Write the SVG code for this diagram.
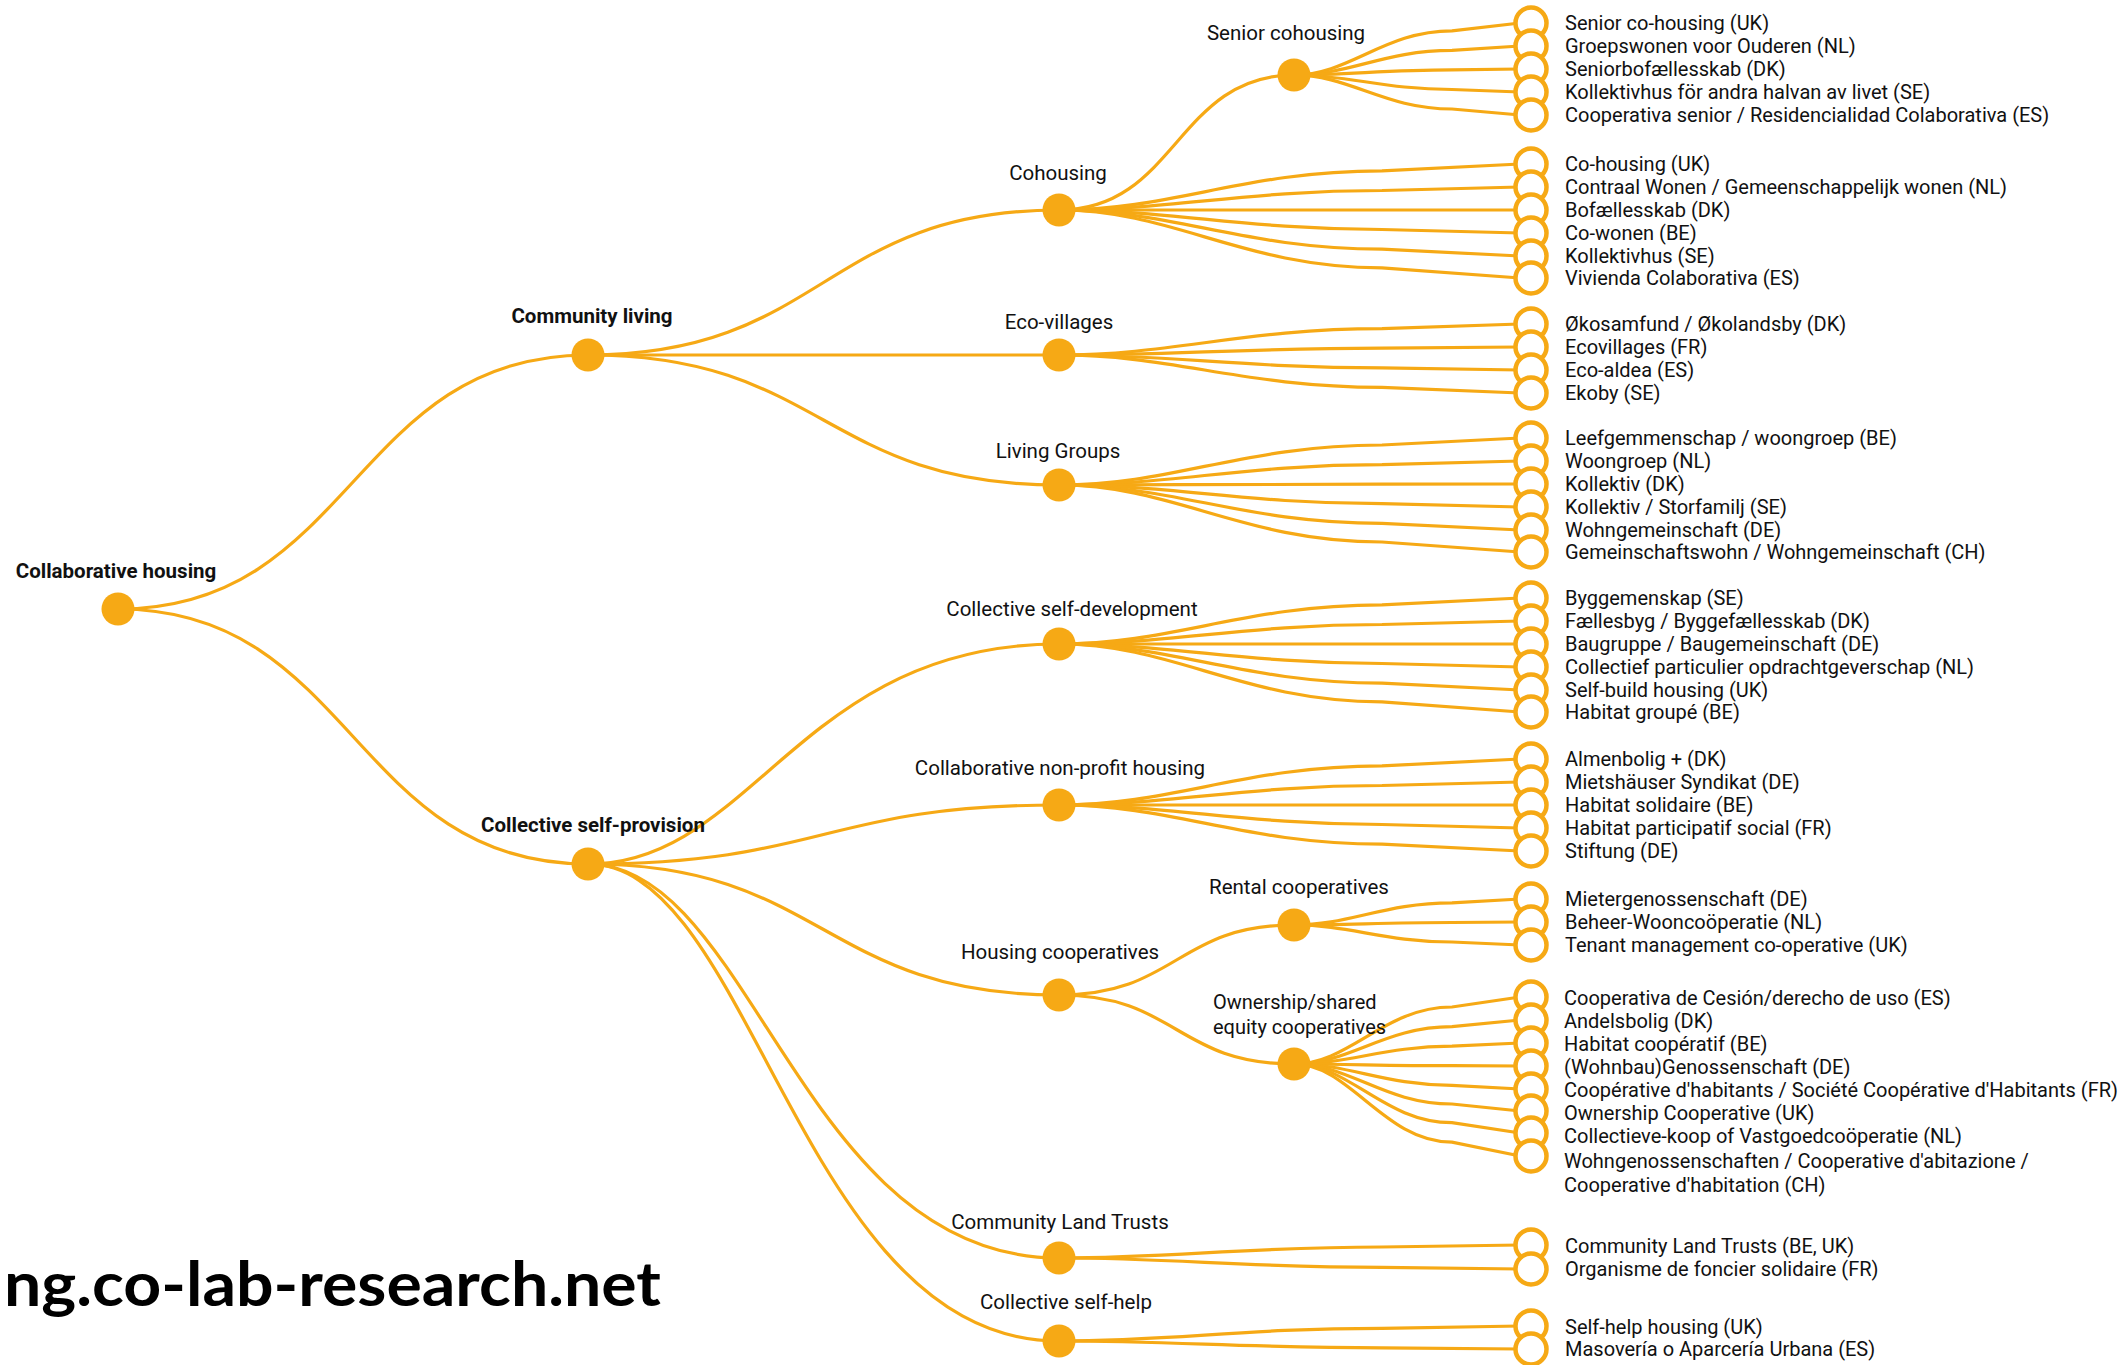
<svg xmlns="http://www.w3.org/2000/svg" width="2126" height="1365" viewBox="0 0 2126 1365">
  <style>
    .link { fill: none; stroke: #F6A915; stroke-width: 3.2; }
    .hub { fill: #F6A915; }
    .leaf circle { fill: #fff; stroke: #F6A915; stroke-width: 4.5; }
    text { font-family: Roboto, "Liberation Sans", sans-serif; fill: #111; }
    .lbl { font-size: 20px; }
    .mid { font-size: 20.5px; text-anchor: middle; }
    .top { font-size: 20.5px; font-weight: 700; text-anchor: middle; }
    .url { font-family: Lato, "Liberation Sans", sans-serif; font-size: 62px; font-weight: 700; fill: #000; }
  </style>
  <rect width="2126" height="1365" fill="#fff"/>

  <!-- connectors -->
  <g id="connectors">
    <!-- trunk and branches -->
    <path class="link" d="M118,609 C353,609 353,355 588,355"/>
    <path class="link" d="M118,609 C353,609 353,864 588,864"/>
    <path class="link" d="M588,355 C823.5,355 823.5,210 1059,210"/>
    <path class="link" d="M588,355 L1059,355"/>
    <path class="link" d="M588,355 C823.5,355 823.5,485 1059,485"/>
    <path class="link" d="M1059,210 C1176.5,210 1176.5,75 1294,75"/>
    <path class="link" d="M588,864 C753,864 800,644 1059,644"/>
    <path class="link" d="M588,864 C823.5,864 823.5,805 1059,805"/>
    <path class="link" d="M588,864 C823.5,864 823.5,995 1059,995"/>
    <path class="link" d="M588,864 C753,864 800,1258 1059,1258"/>
    <path class="link" d="M588,864 C753,864 800,1341 1059,1341"/>
    <path class="link" d="M1059,995 C1176.5,995 1176.5,925 1294,925"/>
    <path class="link" d="M1059,995 C1176.5,995 1176.5,1064 1294,1064"/>

    <!-- senior cohousing fan -->
    <path class="link" d="M1294,75 C1350,75 1384,30.8 1452,30.8 L1520,23"/>
    <path class="link" d="M1294,75 C1350,75 1384,50.4 1452,50.4 L1520,46"/>
    <path class="link" d="M1294,75 C1350,75 1384,69.9 1452,69.9 L1520,69"/>
    <path class="link" d="M1294,75 C1350,75 1384,89.5 1452,89.5 L1520,92"/>
    <path class="link" d="M1294,75 C1350,75 1384,109 1452,109 L1520,115"/>

    <!-- cohousing fan -->
    <path class="link" d="M1059,210 C1174,210 1243,170.9 1382,170.9 L1520,164"/>
    <path class="link" d="M1059,210 C1174,210 1243,190.5 1382,190.5 L1520,187"/>
    <path class="link" d="M1059,210 L1520,210"/>
    <path class="link" d="M1059,210 C1174,210 1243,229.5 1382,229.5 L1520,233"/>
    <path class="link" d="M1059,210 C1174,210 1243,249.1 1382,249.1 L1520,256"/>
    <path class="link" d="M1059,210 C1174,210 1243,267.8 1382,267.8 L1520,278"/>

    <!-- eco-villages fan -->
    <path class="link" d="M1059,355 C1174,355 1243,328.7 1382,328.7 L1520,324"/>
    <path class="link" d="M1059,355 C1174,355 1243,348.2 1382,348.2 L1520,347"/>
    <path class="link" d="M1059,355 C1174,355 1243,367.8 1382,367.8 L1520,370"/>
    <path class="link" d="M1059,355 C1174,355 1243,387.3 1382,387.3 L1520,393"/>

    <!-- living groups fan -->
    <path class="link" d="M1059,485 C1174,485 1243,445 1382,445 L1520,438"/>
    <path class="link" d="M1059,485 C1174,485 1243,464.6 1382,464.6 L1520,461"/>
    <path class="link" d="M1059,485 C1174,485 1243,484.2 1382,484.2 L1520,484"/>
    <path class="link" d="M1059,485 C1174,485 1243,503.7 1382,503.7 L1520,507"/>
    <path class="link" d="M1059,485 C1174,485 1243,523.3 1382,523.3 L1520,530"/>
    <path class="link" d="M1059,485 C1174,485 1243,542 1382,542 L1520,552"/>

    <!-- collective self-development fan -->
    <path class="link" d="M1059,644 C1174,644 1243,604.9 1382,604.9 L1520,598"/>
    <path class="link" d="M1059,644 C1174,644 1243,624.5 1382,624.5 L1520,621"/>
    <path class="link" d="M1059,644 L1520,644"/>
    <path class="link" d="M1059,644 C1174,644 1243,663.5 1382,663.5 L1520,667"/>
    <path class="link" d="M1059,644 C1174,644 1243,683.1 1382,683.1 L1520,690"/>
    <path class="link" d="M1059,644 C1174,644 1243,701.8 1382,701.8 L1520,712"/>

    <!-- non-profit fan -->
    <path class="link" d="M1059,805 C1174,805 1243,765.9 1382,765.9 L1520,759"/>
    <path class="link" d="M1059,805 C1174,805 1243,785.5 1382,785.5 L1520,782"/>
    <path class="link" d="M1059,805 L1520,805"/>
    <path class="link" d="M1059,805 C1174,805 1243,824.5 1382,824.5 L1520,828"/>
    <path class="link" d="M1059,805 C1174,805 1243,844.1 1382,844.1 L1520,851"/>

    <!-- rental cooperatives fan -->
    <path class="link" d="M1294,925 C1350,925 1384,902.9 1452,902.9 L1520,899"/>
    <path class="link" d="M1294,925 C1350,925 1384,922.5 1452,922.5 L1520,922"/>
    <path class="link" d="M1294,925 C1350,925 1384,942 1452,942 L1520,945"/>

    <!-- ownership cooperatives fan -->
    <path class="link" d="M1294,1064 C1350,1064 1384,1007 1452,1007 L1520,997"/>
    <path class="link" d="M1294,1064 C1350,1064 1384,1026.6 1452,1026.6 L1520,1020"/>
    <path class="link" d="M1294,1064 C1350,1064 1384,1046.2 1452,1046.2 L1520,1043"/>
    <path class="link" d="M1294,1064 C1350,1064 1384,1065.7 1452,1065.7 L1520,1066"/>
    <path class="link" d="M1294,1064 C1350,1064 1384,1085.3 1452,1085.3 L1520,1089"/>
    <path class="link" d="M1294,1064 C1350,1064 1384,1104 1452,1104 L1520,1111"/>
    <path class="link" d="M1294,1064 C1350,1064 1384,1122.7 1452,1122.7 L1520,1133"/>
    <path class="link" d="M1294,1064 C1350,1064 1384,1142.2 1452,1142.2 L1520,1156"/>

    <!-- community land trusts fan -->
    <path class="link" d="M1059,1258 C1174,1258 1243,1247 1382,1247 L1520,1245"/>
    <path class="link" d="M1059,1258 C1174,1258 1243,1267.4 1382,1267.4 L1520,1269"/>

    <!-- self-help fan -->
    <path class="link" d="M1059,1341 C1174,1341 1243,1328.3 1382,1328.3 L1520,1326"/>
    <path class="link" d="M1059,1341 C1174,1341 1243,1347.8 1382,1347.8 L1520,1349"/>
  </g>

  <!-- category nodes -->
  <g id="n-collaborative-housing"><circle class="hub" cx="118" cy="609" r="16.5"/><text class="top" x="116" y="578">Collaborative housing</text></g>
  <g id="n-community-living"><circle class="hub" cx="588" cy="355" r="16.5"/><text class="top" x="592" y="323">Community living</text></g>
  <g id="n-collective-self-provision"><circle class="hub" cx="588" cy="864" r="16.5"/><text class="top" x="593" y="832">Collective self-provision</text></g>
  <g id="n-cohousing"><circle class="hub" cx="1059" cy="210" r="16.5"/><text class="mid" x="1058" y="180">Cohousing</text></g>
  <g id="n-senior-cohousing"><circle class="hub" cx="1294" cy="75" r="16.5"/><text class="mid" x="1286" y="40">Senior cohousing</text></g>
  <g id="n-eco-villages"><circle class="hub" cx="1059" cy="355" r="16.5"/><text class="mid" x="1059" y="329">Eco-villages</text></g>
  <g id="n-living-groups"><circle class="hub" cx="1059" cy="485" r="16.5"/><text class="mid" x="1058" y="458">Living Groups</text></g>
  <g id="n-self-development"><circle class="hub" cx="1059" cy="644" r="16.5"/><text class="mid" x="1072" y="616">Collective self-development</text></g>
  <g id="n-non-profit"><circle class="hub" cx="1059" cy="805" r="16.5"/><text class="mid" x="1060" y="775">Collaborative non-profit housing</text></g>
  <g id="n-housing-coops"><circle class="hub" cx="1059" cy="995" r="16.5"/><text class="mid" x="1060" y="959">Housing cooperatives</text></g>
  <g id="n-rental-coops"><circle class="hub" cx="1294" cy="925" r="16.5"/><text class="mid" x="1299" y="894">Rental cooperatives</text></g>
  <g id="n-ownership-coops"><circle class="hub" cx="1294" cy="1064" r="16.5"/><text class="lbl" x="1213" y="1009">Ownership/shared</text><text class="lbl" x="1213" y="1034">equity cooperatives</text></g>
  <g id="n-clt"><circle class="hub" cx="1059" cy="1258" r="16.5"/><text class="mid" x="1060" y="1229">Community Land Trusts</text></g>
  <g id="n-self-help"><circle class="hub" cx="1059" cy="1341" r="16.5"/><text class="mid" x="1066" y="1309">Collective self-help</text></g>

  <!-- leaf terms -->
  <g class="leaf" id="l-senior-uk"><circle cx="1531" cy="23" r="15.5"/><text class="lbl" x="1565" y="30">Senior co-housing (UK)</text></g>
  <g class="leaf" id="l-senior-nl"><circle cx="1531" cy="46" r="15.5"/><text class="lbl" x="1565" y="53">Groepswonen voor Ouderen (NL)</text></g>
  <g class="leaf" id="l-senior-dk"><circle cx="1531" cy="69" r="15.5"/><text class="lbl" x="1565" y="76">Seniorbofællesskab (DK)</text></g>
  <g class="leaf" id="l-senior-se"><circle cx="1531" cy="92" r="15.5"/><text class="lbl" x="1565" y="99">Kollektivhus för andra halvan av livet (SE)</text></g>
  <g class="leaf" id="l-senior-es"><circle cx="1531" cy="115" r="15.5"/><text class="lbl" x="1565" y="122">Cooperativa senior / Residencialidad Colaborativa (ES)</text></g>

  <g class="leaf" id="l-coh-uk"><circle cx="1531" cy="164" r="15.5"/><text class="lbl" x="1565" y="171">Co-housing (UK)</text></g>
  <g class="leaf" id="l-coh-nl"><circle cx="1531" cy="187" r="15.5"/><text class="lbl" x="1565" y="194">Contraal Wonen / Gemeenschappelijk wonen (NL)</text></g>
  <g class="leaf" id="l-coh-dk"><circle cx="1531" cy="210" r="15.5"/><text class="lbl" x="1565" y="217">Bofællesskab (DK)</text></g>
  <g class="leaf" id="l-coh-be"><circle cx="1531" cy="233" r="15.5"/><text class="lbl" x="1565" y="240">Co-wonen (BE)</text></g>
  <g class="leaf" id="l-coh-se"><circle cx="1531" cy="256" r="15.5"/><text class="lbl" x="1565" y="263">Kollektivhus (SE)</text></g>
  <g class="leaf" id="l-coh-es"><circle cx="1531" cy="278" r="15.5"/><text class="lbl" x="1565" y="285">Vivienda Colaborativa (ES)</text></g>

  <g class="leaf" id="l-eco-dk"><circle cx="1531" cy="324" r="15.5"/><text class="lbl" x="1565" y="331">Økosamfund / Økolandsby (DK)</text></g>
  <g class="leaf" id="l-eco-fr"><circle cx="1531" cy="347" r="15.5"/><text class="lbl" x="1565" y="354">Ecovillages (FR)</text></g>
  <g class="leaf" id="l-eco-es"><circle cx="1531" cy="370" r="15.5"/><text class="lbl" x="1565" y="377">Eco-aldea (ES)</text></g>
  <g class="leaf" id="l-eco-se"><circle cx="1531" cy="393" r="15.5"/><text class="lbl" x="1565" y="400">Ekoby (SE)</text></g>

  <g class="leaf" id="l-lg-be"><circle cx="1531" cy="438" r="15.5"/><text class="lbl" x="1565" y="445">Leefgemmenschap / woongroep (BE)</text></g>
  <g class="leaf" id="l-lg-nl"><circle cx="1531" cy="461" r="15.5"/><text class="lbl" x="1565" y="468">Woongroep (NL)</text></g>
  <g class="leaf" id="l-lg-dk"><circle cx="1531" cy="484" r="15.5"/><text class="lbl" x="1565" y="491">Kollektiv (DK)</text></g>
  <g class="leaf" id="l-lg-se"><circle cx="1531" cy="507" r="15.5"/><text class="lbl" x="1565" y="514">Kollektiv / Storfamilj (SE)</text></g>
  <g class="leaf" id="l-lg-de"><circle cx="1531" cy="530" r="15.5"/><text class="lbl" x="1565" y="537">Wohngemeinschaft (DE)</text></g>
  <g class="leaf" id="l-lg-ch"><circle cx="1531" cy="552" r="15.5"/><text class="lbl" x="1565" y="559">Gemeinschaftswohn / Wohngemeinschaft (CH)</text></g>

  <g class="leaf" id="l-csd-se"><circle cx="1531" cy="598" r="15.5"/><text class="lbl" x="1565" y="605">Byggemenskap (SE)</text></g>
  <g class="leaf" id="l-csd-dk"><circle cx="1531" cy="621" r="15.5"/><text class="lbl" x="1565" y="628">Fællesbyg / Byggefællesskab (DK)</text></g>
  <g class="leaf" id="l-csd-de"><circle cx="1531" cy="644" r="15.5"/><text class="lbl" x="1565" y="651">Baugruppe / Baugemeinschaft (DE)</text></g>
  <g class="leaf" id="l-csd-nl"><circle cx="1531" cy="667" r="15.5"/><text class="lbl" x="1565" y="674">Collectief particulier opdrachtgeverschap (NL)</text></g>
  <g class="leaf" id="l-csd-uk"><circle cx="1531" cy="690" r="15.5"/><text class="lbl" x="1565" y="697">Self-build housing (UK)</text></g>
  <g class="leaf" id="l-csd-be"><circle cx="1531" cy="712" r="15.5"/><text class="lbl" x="1565" y="719">Habitat groupé (BE)</text></g>

  <g class="leaf" id="l-np-dk"><circle cx="1531" cy="759" r="15.5"/><text class="lbl" x="1565" y="766">Almenbolig + (DK)</text></g>
  <g class="leaf" id="l-np-de1"><circle cx="1531" cy="782" r="15.5"/><text class="lbl" x="1565" y="789">Mietshäuser Syndikat (DE)</text></g>
  <g class="leaf" id="l-np-be"><circle cx="1531" cy="805" r="15.5"/><text class="lbl" x="1565" y="812">Habitat solidaire (BE)</text></g>
  <g class="leaf" id="l-np-fr"><circle cx="1531" cy="828" r="15.5"/><text class="lbl" x="1565" y="835">Habitat participatif social (FR)</text></g>
  <g class="leaf" id="l-np-de2"><circle cx="1531" cy="851" r="15.5"/><text class="lbl" x="1565" y="858">Stiftung (DE)</text></g>

  <g class="leaf" id="l-rc-de"><circle cx="1531" cy="899" r="15.5"/><text class="lbl" x="1565" y="906">Mietergenossenschaft (DE)</text></g>
  <g class="leaf" id="l-rc-nl"><circle cx="1531" cy="922" r="15.5"/><text class="lbl" x="1565" y="929">Beheer-Wooncoöperatie (NL)</text></g>
  <g class="leaf" id="l-rc-uk"><circle cx="1531" cy="945" r="15.5"/><text class="lbl" x="1565" y="952">Tenant management co-operative (UK)</text></g>

  <g class="leaf" id="l-oc-es"><circle cx="1531" cy="997" r="15.5"/><text class="lbl" x="1564" y="1005">Cooperativa de Cesión/derecho de uso (ES)</text></g>
  <g class="leaf" id="l-oc-dk"><circle cx="1531" cy="1020" r="15.5"/><text class="lbl" x="1564" y="1028">Andelsbolig (DK)</text></g>
  <g class="leaf" id="l-oc-be"><circle cx="1531" cy="1043" r="15.5"/><text class="lbl" x="1564" y="1051">Habitat coopératif (BE)</text></g>
  <g class="leaf" id="l-oc-de"><circle cx="1531" cy="1066" r="15.5"/><text class="lbl" x="1564" y="1074">(Wohnbau)Genossenschaft (DE)</text></g>
  <g class="leaf" id="l-oc-fr"><circle cx="1531" cy="1089" r="15.5"/><text class="lbl" x="1564" y="1097">Coopérative d'habitants / Société Coopérative d'Habitants (FR)</text></g>
  <g class="leaf" id="l-oc-uk"><circle cx="1531" cy="1111" r="15.5"/><text class="lbl" x="1564" y="1120">Ownership Cooperative (UK)</text></g>
  <g class="leaf" id="l-oc-nl"><circle cx="1531" cy="1133" r="15.5"/><text class="lbl" x="1564" y="1143">Collectieve-koop of Vastgoedcoöperatie (NL)</text></g>
  <g class="leaf" id="l-oc-ch"><circle cx="1531" cy="1156" r="15.5"/><text class="lbl" x="1564" y="1168">Wohngenossenschaften / Cooperative d'abitazione /</text><text class="lbl" x="1564" y="1192">Cooperative d'habitation (CH)</text></g>

  <g class="leaf" id="l-clt-be-uk"><circle cx="1531" cy="1245" r="15.5"/><text class="lbl" x="1565" y="1253">Community Land Trusts (BE, UK)</text></g>
  <g class="leaf" id="l-clt-fr"><circle cx="1531" cy="1269" r="15.5"/><text class="lbl" x="1565" y="1276">Organisme de foncier solidaire (FR)</text></g>

  <g class="leaf" id="l-sh-uk"><circle cx="1531" cy="1326" r="15.5"/><text class="lbl" x="1565" y="1334">Self-help housing (UK)</text></g>
  <g class="leaf" id="l-sh-es"><circle cx="1531" cy="1349" r="15.5"/><text class="lbl" x="1565" y="1356">Masovería o Aparcería Urbana (ES)</text></g>

  <!-- site address -->
  <text class="url" x="4" y="1306" textLength="657" lengthAdjust="spacingAndGlyphs">ng.co-lab-research.net</text>
</svg>
